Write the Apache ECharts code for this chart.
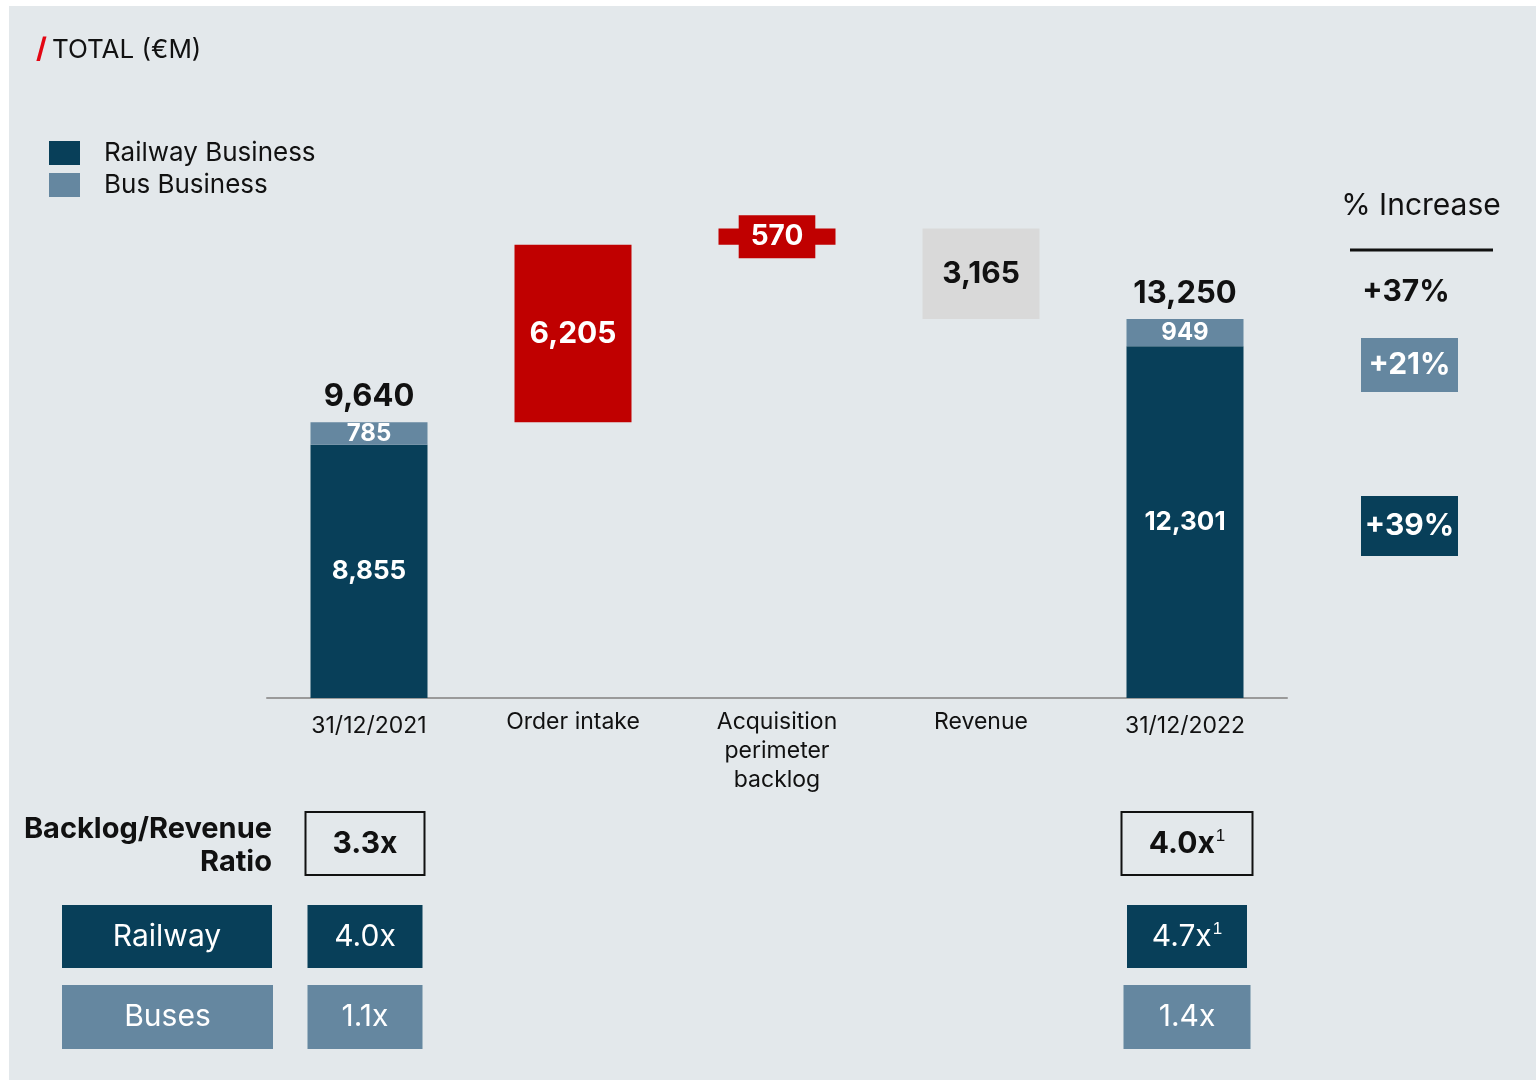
<!DOCTYPE html>
<html>
<head>
<meta charset="utf-8">
<script src="https://cdn.jsdelivr.net/npm/echarts@6/dist/echarts.min.js"></script>
<style>
  html, body { margin: 0; padding: 0; background: #fff; }
  #panel { position: absolute; left: 9px; top: 6px; width: 1527px; height: 1074px; background: #e3e8eb; }
  #chart { position: absolute; left: 0; top: 0; width: 1536px; height: 1080px; }
</style>
</head>
<body>
<div id="panel"></div>
<div id="chart"></div>
<script>
// data
const categories = ["31/12/2021", "Order intake", "Acquisition\nperimeter\nbacklog", "Revenue", "31/12/2022"];
const railway = [8855, "-", "-", "-", 12301];
const bus = [785, "-", "-", "-", 949];
const totals = [9640, null, null, null, 13250];
const changes = [null, 6205, 570, -3165, null];

const ratioTotal = ["3.3x", null, null, null, "4.0x"];
const ratioRailway = ["4.0x", null, null, null, "4.7x"];
const ratioBuses = ["1.1x", null, null, null, "1.4x"];
const ratioNote = [false, null, null, null, true];

const incTotal = "+37%";
const incBus = "+21%";
const incRailway = "+39%";

// colours
const RAIL = "#083f59";
const BUS = "#6587a0";
const RED = "#c00000";
const GREY = "#d9d9d9";
const FONT = "Inter, 'Noto Sans', sans-serif";

// waterfall base (running total before each change)
let running = totals[0];
const base = categories.map((c, i) => {
  if (changes[i] == null) return "-";
  const start = changes[i] > 0 ? running : running + changes[i];
  running += changes[i];
  return start;
});
const changeColors = [null, RED, RED, GREY, null];

const myChart = echarts.init(document.getElementById("chart"));

myChart.setOption({
  backgroundColor: "transparent",
  animation: false,
  textStyle: { fontFamily: FONT },
  title: {
    left: 36,
    top: 36,
    padding: 0,
    text: "{r|/} {t|TOTAL (€M)}",
    textStyle: {
      fontWeight: "normal",
      rich: {
        r: { color: "#e30613", fontSize: 28, fontWeight: "bold", fontFamily: FONT },
        t: { color: "#111", fontSize: 26, fontWeight: "normal", fontFamily: FONT },
      },
    },
  },
  legend: {
    data: ["Railway Business", "Bus Business"],
    orient: "vertical",
    left: 49,
    top: 140,
    padding: 0,
    itemWidth: 31,
    itemHeight: 24,
    itemGap: 6,
    icon: "rect",
    textStyle: { fontSize: 26, color: "#111", fontFamily: FONT, padding: [0, 0, 0, 19] },
  },
  grid: { left: 267, right: 249, top: 126, bottom: 382 },
  xAxis: {
    type: "category",
    data: categories,
    axisTick: { show: false },
    axisLine: { lineStyle: { color: "#9a9a9a", width: 2 } },
    axisLabel: {
      color: "#111",
      fontSize: 23,
      lineHeight: 29,
      margin: 10,
      interval: 0,
      fontFamily: FONT,
      formatter: (v) => (v.indexOf("/") > 0 ? "{d|" + v + "}" : v),
      rich: {
        d: { fontSize: 23, color: "#111", fontFamily: FONT, padding: [8, 0, 0, 0] },
      },
    },
  },
  yAxis: {
    type: "value",
    min: 0,
    max: 20000,
    show: false,
    splitLine: { show: false },
  },
  series: [
    {
      name: "base",
      type: "bar",
      stack: "w",
      barWidth: 117,
      data: base,
      itemStyle: { color: "transparent" },
      silent: true,
    },
    {
      name: "Railway Business",
      type: "bar",
      stack: "w",
      data: railway,
      itemStyle: { color: RAIL },
      label: {
        show: true,
        position: "inside",
        color: "#fff",
        fontSize: 26,
        fontWeight: "bold",
        fontFamily: FONT,
        formatter: (p) => p.value.toLocaleString("en-US"),
      },
    },
    {
      name: "Bus Business",
      type: "bar",
      stack: "w",
      data: bus,
      itemStyle: { color: BUS },
      label: {
        show: true,
        position: "inside",
        color: "#fff",
        fontSize: 24,
        fontWeight: "bold",
        fontFamily: FONT,
        formatter: (p) => p.value.toLocaleString("en-US"),
      },
    },
    {
      name: "change",
      type: "bar",
      stack: "w",
      data: changes.map((v, i) => {
        if (v == null) return "-";
        const item = {
          value: Math.abs(v),
          itemStyle: { color: changeColors[i] },
          label: { color: changeColors[i] === GREY ? "#111" : "#fff" },
        };
        if (i === 2) {
          item.label = {
            color: "#fff",
            backgroundColor: RED,
            padding: [8, 12, 7, 12],
            fontSize: 28,
          };
        }
        return item;
      }),
      label: {
        show: true,
        position: "inside",
        fontSize: 30,
        fontWeight: "bold",
        fontFamily: FONT,
        formatter: (p) => p.value.toLocaleString("en-US"),
      },
    },
    {
      name: "Total",
      type: "scatter",
      symbolSize: 0,
      itemStyle: { opacity: 1 },
      data: totals.map((v, i) => (v == null ? null : [i, v])).filter((d) => d),
      label: {
        show: true,
        position: "top",
        distance: 10,
        color: "#111",
        opacity: 1,
        fontSize: 31,
        fontWeight: "bold",
        fontFamily: FONT,
        formatter: (p) => p.value[1].toLocaleString("en-US"),
      },
    },
  ],
});

// annotations: % increase column and ratio table
function box(x, y, w, h, fill, text, opts) {
  opts = opts || {};
  return {
    type: "group",
    children: [
      {
        type: "rect",
        shape: { x: x, y: y, width: w, height: h },
        style: opts.stroke
          ? { fill: "transparent", stroke: opts.stroke, lineWidth: 2 }
          : { fill: fill },
      },
      {
        type: "text",
        x: x + w / 2,
        y: y + h / 2,
        style: {
          text: text,
          rich: opts.rich,
          fill: opts.color || "#fff",
          font: opts.font || "30px " + FONT,
          align: "center",
          verticalAlign: "middle",
        },
      },
    ],
  };
}

const cx = (i) => myChart.convertToPixel({ xAxisIndex: 0 }, i);
const g = [];

// % increase
g.push({
  type: "text",
  x: 1421,
  y: 206,
  style: { text: "% Increase", fill: "#111", font: "30px " + FONT, align: "center", verticalAlign: "middle" },
});
g.push({
  type: "line",
  shape: { x1: 1350, y1: 250, x2: 1493, y2: 250 },
  style: { stroke: "#111", lineWidth: 3 },
});
g.push({
  type: "text",
  x: 1406,
  y: 292,
  style: { text: incTotal, fill: "#111", font: "bold 30px " + FONT, align: "center", verticalAlign: "middle" },
});
g.push(box(1361, 338, 97, 54, BUS, incBus, { font: "bold 30px " + FONT }));
g.push(box(1361, 496, 97, 60, RAIL, incRailway, { font: "bold 30px " + FONT }));

// ratio row headings
g.push({
  type: "text",
  x: 272,
  y: 846,
  style: {
    text: "Backlog/Revenue\nRatio",
    fill: "#111",
    font: "bold 29px " + FONT,
    lineHeight: 33,
    align: "right",
    verticalAlign: "middle",
  },
});
g.push(box(62, 905, 210, 63, RAIL, "Railway"));
g.push(box(62, 985, 211, 64, BUS, "Buses"));

categories.forEach((c, i) => {
  if (ratioTotal[i] == null) return;
  const note = ratioNote[i];
  const x = cx(i) + (note ? 2 : -4);
  const wt = note ? 131 : 119;
  g.push(
    box(x - wt / 2, 812, wt, 63, null, note ? "{b|" + ratioTotal[i] + "}{s|1}" : ratioTotal[i], {
      stroke: "#111",
      color: "#111",
      font: "bold 30px " + FONT,
      rich: { b: { fontWeight: "bold", fontSize: 30, fontFamily: FONT, fill: "#111" }, s: { fontSize: 17, fill: "#111", padding: [0, 0, 14, 1] } },
    })
  );
  const wr = note ? 120 : 115;
  g.push(
    box(x - wr / 2, 905, wr, 63, RAIL, note ? "{n|" + ratioRailway[i] + "}{s|1}" : ratioRailway[i], {
      rich: { n: { fontSize: 30, fontFamily: FONT, fill: "#fff" }, s: { fontSize: 17, fill: "#fff", padding: [0, 0, 14, 1] } },
    })
  );
  const wb = note ? 127 : 115;
  g.push(box(x - wb / 2, 985, wb, 64, BUS, ratioBuses[i]));
});

myChart.setOption({ graphic: g });
</script>
</body>
</html>
